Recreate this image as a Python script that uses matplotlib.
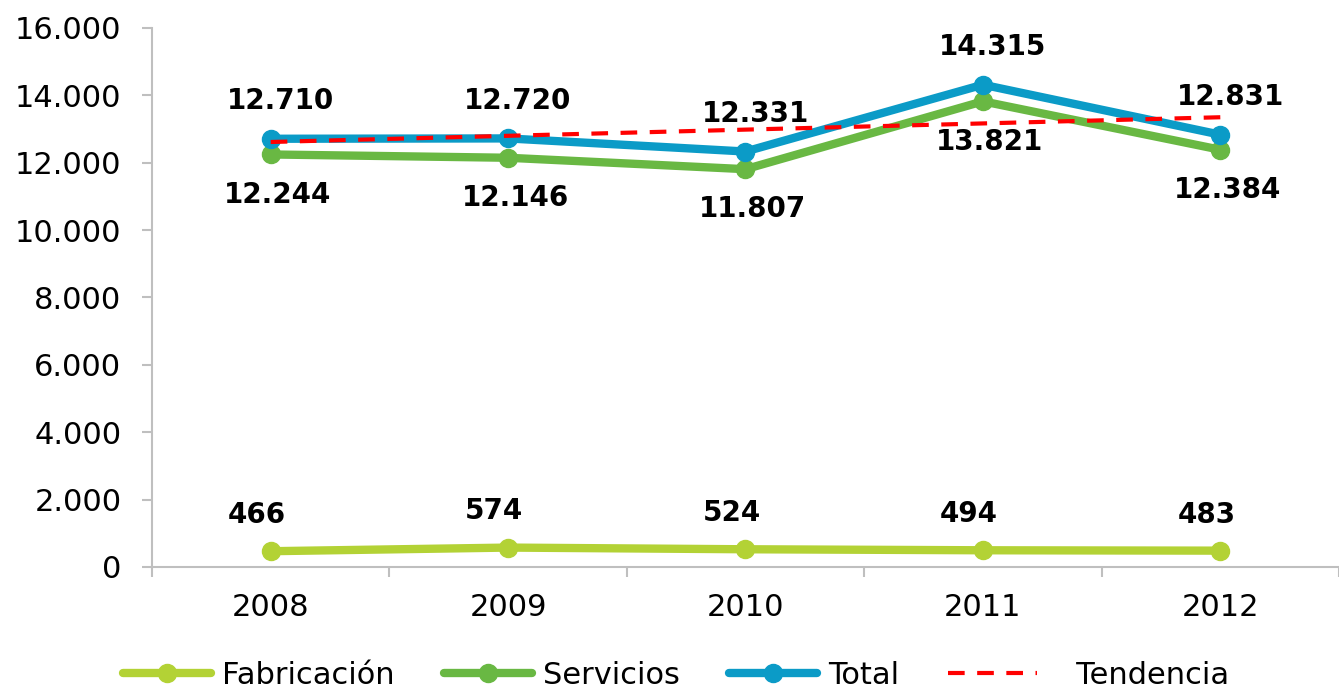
import matplotlib.pyplot as plt
import numpy as np
from matplotlib.ticker import FuncFormatter

plt.rcParams["font.family"] = ["DejaVu Sans"]

years = ["2008", "2009", "2010", "2011", "2012"]
fabricacion = [466, 574, 524, 494, 483]
servicios = [12244, 12146, 11807, 13821, 12384]
total = [12710, 12720, 12331, 14315, 12831]

C_FAB = "#b3d235"
C_SER = "#69b843"
C_TOT = "#0b9bc7"
C_TREND = "#ff0000"
GRID_GRAY = "#bfbfbf"


def miles(v):
    return f"{int(round(v)):,}".replace(",", ".")


x = np.arange(len(years))
# linear trend line of the total (as in the spreadsheet trendline)
coef = np.polyfit(x, total, 1)
trend = np.polyval(coef, x)

fig = plt.figure(figsize=(13.39, 6.88), dpi=100)
ax = fig.add_axes([0.1135, 0.176, 0.8865, 0.7834])

line_kw = dict(lw=6, marker="o", ms=13, solid_capstyle="round")
ax.plot(x, fabricacion, color=C_FAB, label="Fabricación", **line_kw)
ax.plot(x, servicios, color=C_SER, label="Servicios", **line_kw)
ax.plot(x, total, color=C_TOT, label="Total", **line_kw)
ax.plot(x, trend, color=C_TREND, lw=3, ls=(0, (4, 3)), label="   Tendencia")

lab_kw = dict(textcoords="offset points", ha="center", va="center",
              fontsize=20, fontweight="bold")
for xi, v in zip(x, total):
    ax.annotate(miles(v), (xi, v), xytext=(7, 27), **lab_kw)
for xi, v in zip(x, servicios):
    ax.annotate(miles(v), (xi, v), xytext=(5, -29), **lab_kw)
for xi, v in zip(x, fabricacion):
    ax.annotate(miles(v), (xi, v), xytext=(-10, 26), **lab_kw)

ax.set_xlim(-0.5, 4.5)
ax.set_ylim(0, 16000)
ax.set_yticks(np.arange(0, 16001, 2000))
ax.yaxis.set_major_formatter(FuncFormatter(lambda v, p: miles(v)))

ax.set_xticks(np.arange(-0.5, 4.6, 1.0))
ax.set_xticklabels([])
ax.set_xticks(x, minor=True)
ax.set_xticklabels(years, minor=True)

ax.tick_params(axis="y", which="major", length=7, width=1.5, color=GRID_GRAY,
               pad=15, labelsize=22)
ax.tick_params(axis="x", which="major", length=7, width=1.5, color=GRID_GRAY)
ax.tick_params(axis="x", which="minor", length=0, pad=19, labelsize=22)

for s in ["top", "right"]:
    ax.spines[s].set_visible(False)
for s in ["left", "bottom"]:
    ax.spines[s].set_color(GRID_GRAY)
    ax.spines[s].set_linewidth(1.5)

fig.legend(loc="center", bbox_to_anchor=(0.505, 0.018), ncol=4, frameon=False,
           fontsize=22, handlelength=2.9, handletextpad=0.35,
           columnspacing=1.6)

fig.savefig("out.png", dpi=100)
